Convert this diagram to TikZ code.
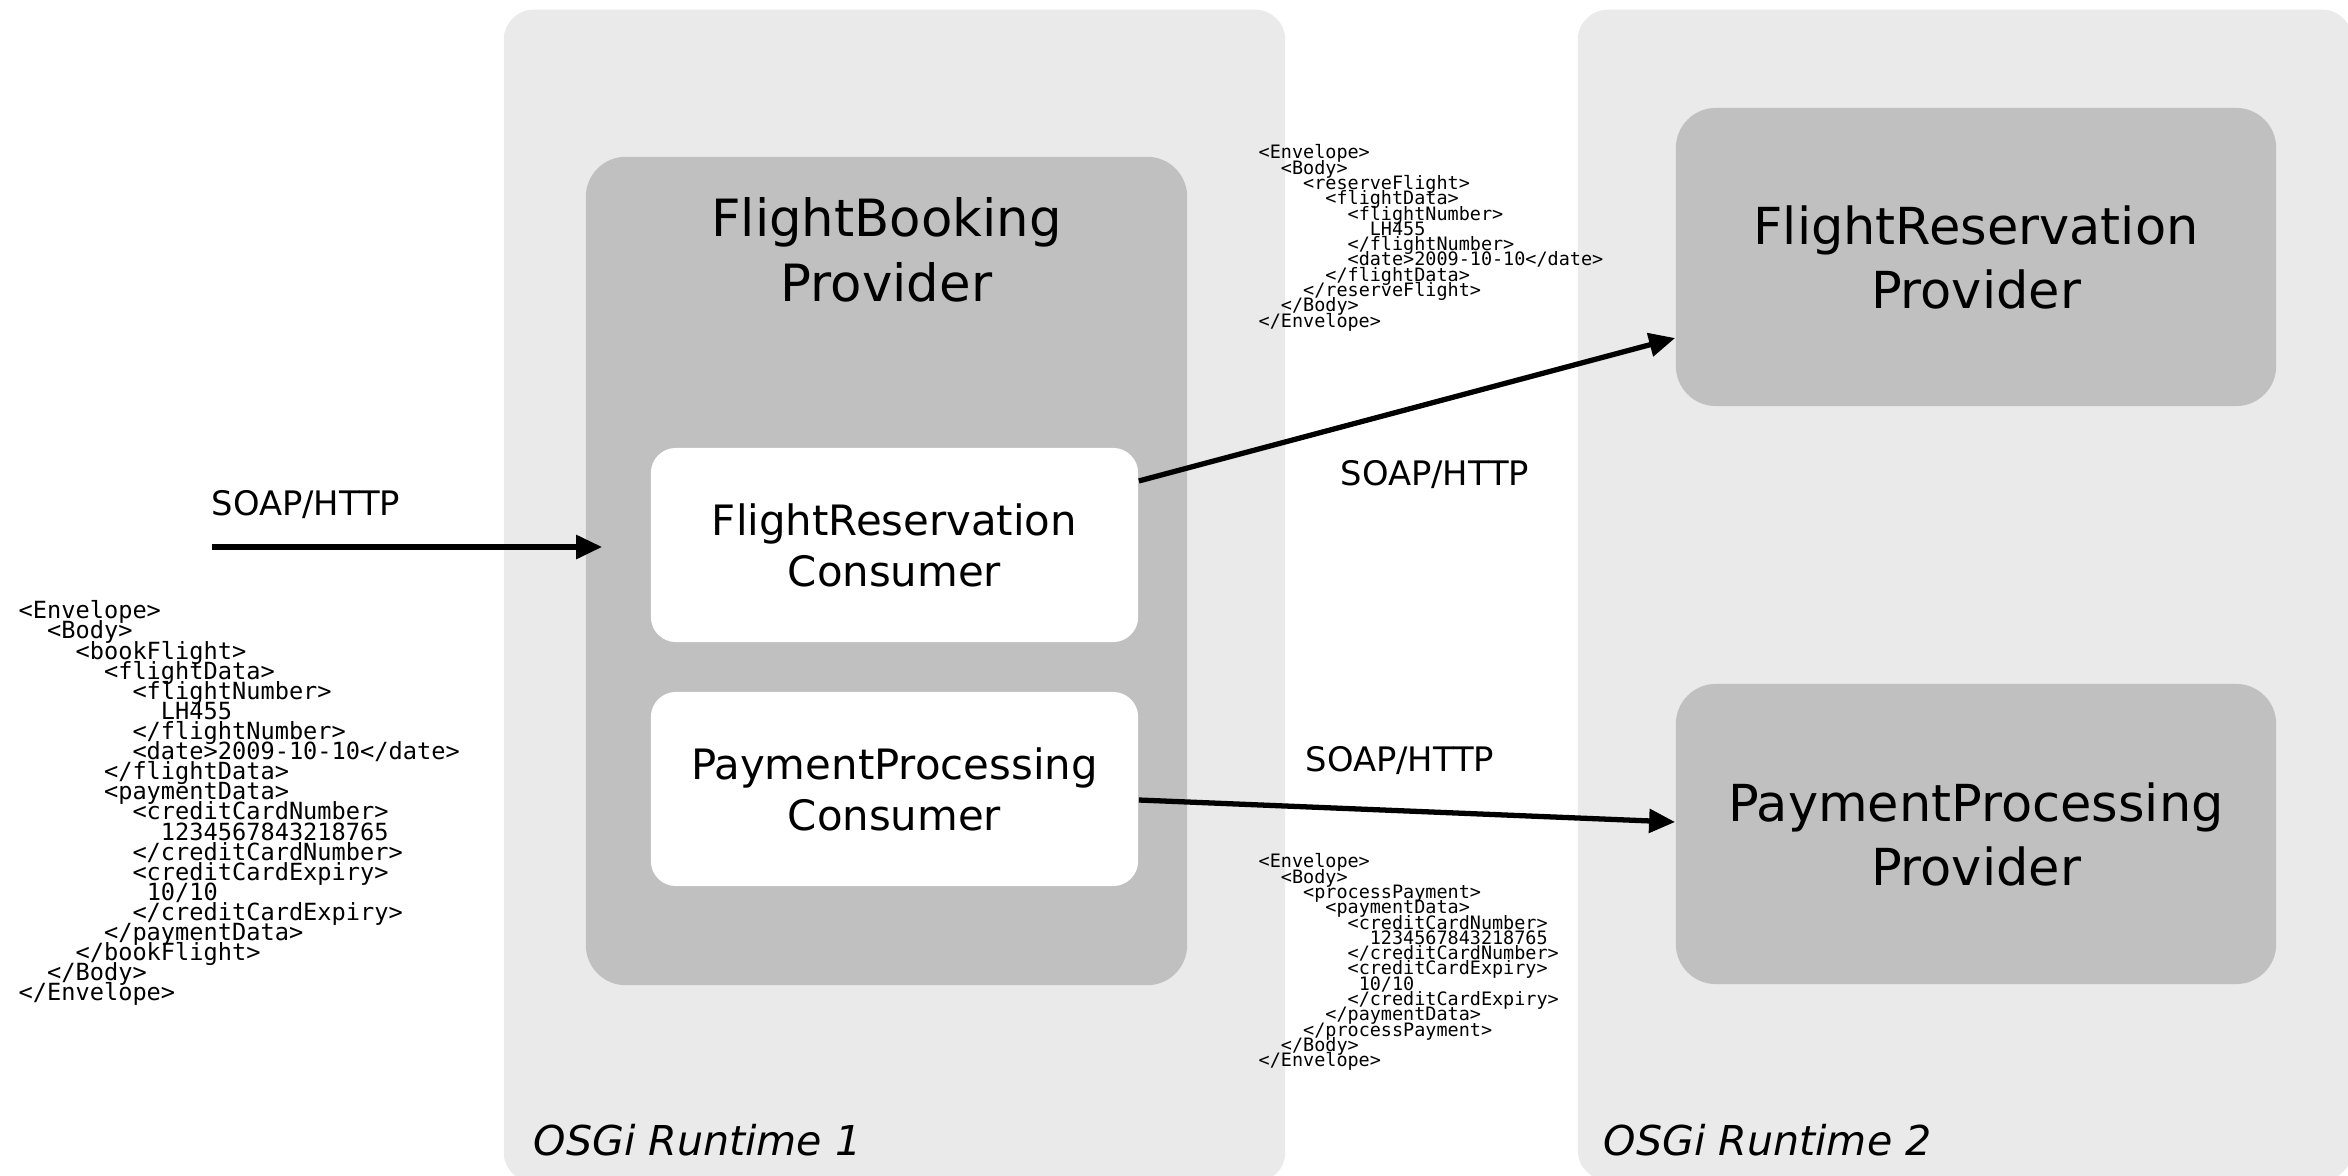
\documentclass[tikz,border=0pt]{standalone}
\usepackage{fontspec}
\setsansfont{DejaVu Sans}
\setmonofont{DejaVu Sans Mono}
\usepackage{tikz}
\usetikzlibrary{arrows.meta, positioning}

\definecolor{runtimegray}{HTML}{EAEAEA}
\definecolor{boxgray}{HTML}{C0C0C0}

% indent by n characters of the current mono font
\newcommand\xind[1]{\hspace*{#1\fontcharwd\font`0}}
\newcommand\xmlfont{\ttfamily\fontsize{6.72pt}{5.72pt}\selectfont\lineskiplimit=-100pt\relax}
\newcommand\smallxmlfont{\ttfamily\fontsize{5.25pt}{4.35pt}\selectfont\lineskiplimit=-100pt\relax}

\begin{document}
\begin{tikzpicture}[font=\sffamily, x=0.01cm, y=-0.01cm]
        % Setup the styles for the boxes, texts and arrows
        \tikzset{runtime style/.style={fill=runtimegray,
                                       rounded corners=0.3cm,
                                       inner sep=0pt},
                 box style/.style={fill=boxgray,
                                   rounded corners=0.4cm,
                                   inner sep=0pt,
                                   align=center,
                                   font=\sffamily\fontsize{14.5pt}{18.2pt}\selectfont},
                 title style/.style={inner sep=0pt,
                                     align=center,
                                     font=\sffamily\fontsize{14.6pt}{18.5pt}\selectfont},
                 consumer style/.style={fill=white,
                                        rounded corners=0.25cm,
                                        inner sep=0pt,
                                        align=center,
                                        minimum width=4.87cm,
                                        minimum height=1.94cm,
                                        font=\sffamily\fontsize{11.9pt}{14.5pt}\selectfont},
                 runtime label/.style={anchor=base west,
                                       inner sep=0pt,
                                       font=\sffamily\itshape\fontsize{11.7pt}{14pt}\selectfont},
                 soap label/.style={inner sep=0pt,
                                    font=\sffamily\fontsize{9.6pt}{11pt}\selectfont},
                 xml style/.style={anchor=north west,
                                   inner sep=0pt,
                                   align=left,
                                   font=\xmlfont},
                 small xml style/.style={xml style,
                                         font=\smallxmlfont},
                 soap arrow/.style={line width=1.5pt,
                                    -{Triangle[length=7.4pt, width=6.6pt]}}}

        \useasboundingbox (0,0) rectangle (2348,1176);

        % Draw the runtimes
        \node[runtime style, minimum width=7.81cm, minimum height=11.72cm] at (894.5,596) (runtime1) {};
        \node[runtime style, minimum width=7.74cm, minimum height=11.70cm] at (1965,595) (runtime2) {};
        \node[runtime label] at (533,1155) (runtime1label) {OSGi Runtime 1};
        \node[runtime label] at (1603,1155) (runtime2label) {OSGi Runtime 2};

        % Draw the providers and consumers
        \node[box style, minimum width=6.01cm, minimum height=8.28cm] at (886.5,571) (booking) {};
        \node[title style, below=0.41cm of booking.north] (bookingtitle) {FlightBooking\\Provider};
        \node[consumer style] at (894.5,545) (reserveconsumer) {FlightReservation\\Consumer};
        \node[consumer style] at (894.5,789) (paymentconsumer) {PaymentProcessing\\Consumer};
        \node[box style, minimum width=6cm, minimum height=2.98cm] at (1976,257) (reserveprovider) {FlightReservation\\Provider};
        \node[box style, minimum width=6cm, minimum height=3cm] at (1976,834) (paymentprovider) {PaymentProcessing\\Provider};

        % Connect them with arrows
        \coordinate (client) at (212,547);
        \draw[soap arrow, shorten >=-0.17cm] (client) -- (booking.west |- client);
        \draw[soap arrow] ([yshift=0.64cm]reserveconsumer.east) -- ([yshift=-0.81cm]reserveprovider.west);
        \draw[soap arrow] ([yshift=-0.11cm]paymentconsumer.east) -- ([yshift=0.12cm]paymentprovider.west);

        \node[soap label] at (306,505) (clientsoap) {SOAP/HTTP};
        \node[soap label] at (1435,475) (reservesoap) {SOAP/HTTP};
        \node[soap label] at (1400,761) (paymentsoap) {SOAP/HTTP};

        % The messages
        \node[xml style] at (18,600) (bookmsg) {<Envelope>\\
                \xind{2}<Body>\\
                \xind{4}<bookFlight>\\
                \xind{6}<flightData>\\
                \xind{8}<flightNumber>\\
                \xind{10}LH455\\
                \xind{8}</flightNumber>\\
                \xind{8}<date>2009-10-10</date>\\
                \xind{6}</flightData>\\
                \xind{6}<paymentData>\\
                \xind{8}<creditCardNumber>\\
                \xind{10}1234567843218765\\
                \xind{8}</creditCardNumber>\\
                \xind{8}<creditCardExpiry>\\
                \xind{9}10/10\\
                \xind{8}</creditCardExpiry>\\
                \xind{6}</paymentData>\\
                \xind{4}</bookFlight>\\
                \xind{2}</Body>\\
                </Envelope>};
        \node[small xml style] at (1258,144) (reservemsg) {<Envelope>\\
                \xind{2}<Body>\\
                \xind{4}<reserveFlight>\\
                \xind{6}<flightData>\\
                \xind{8}<flightNumber>\\
                \xind{10}LH455\\
                \xind{8}</flightNumber>\\
                \xind{8}<date>2009-10-10</date>\\
                \xind{6}</flightData>\\
                \xind{4}</reserveFlight>\\
                \xind{2}</Body>\\
                </Envelope>};
        \node[small xml style] at (1258,853) (paymentmsg) {<Envelope>\\
                \xind{2}<Body>\\
                \xind{4}<processPayment>\\
                \xind{6}<paymentData>\\
                \xind{8}<creditCardNumber>\\
                \xind{10}1234567843218765\\
                \xind{8}</creditCardNumber>\\
                \xind{8}<creditCardExpiry>\\
                \xind{9}10/10\\
                \xind{8}</creditCardExpiry>\\
                \xind{6}</paymentData>\\
                \xind{4}</processPayment>\\
                \xind{2}</Body>\\
                </Envelope>};
\end{tikzpicture}
\end{document}
